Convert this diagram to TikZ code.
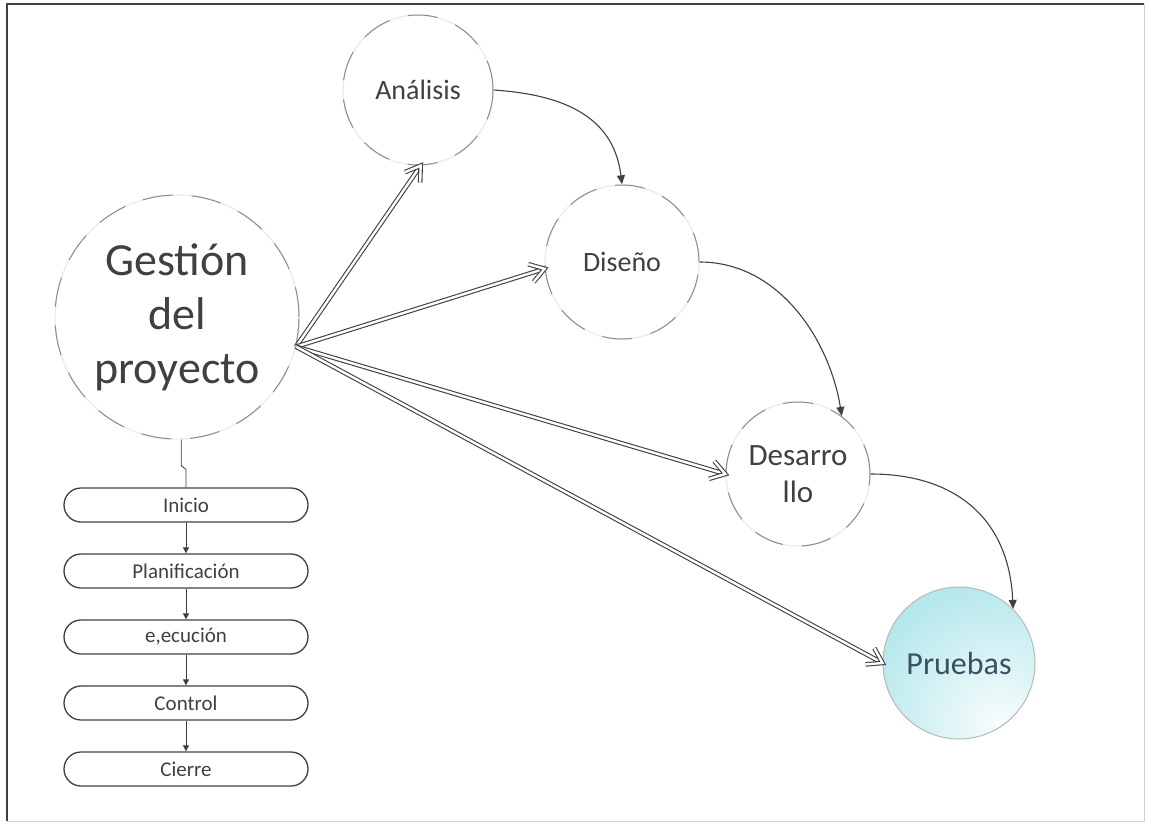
\documentclass[tikz,border=0pt]{standalone}
\usepackage{fontspec}
\setmainfont{Carlito}
\usetikzlibrary{arrows.meta,calc}
\definecolor{ink}{RGB}{64,64,68}
\definecolor{rim}{RGB}{140,140,140}
\definecolor{faint}{RGB}{236,236,236}
\definecolor{aqua}{RGB}{172,229,234}
\definecolor{aqualight}{RGB}{248,252,252}
\definecolor{slate}{RGB}{58,80,96}
% hollow double-lined arrow with an outlined chevron head
\newcommand\feedarrow[2]{%
  \draw[feed] (#1) -- (#2);
  \draw[feed, line join=miter] ($(#2)!17pt!33:(#1)$) -- (#2) -- ($(#2)!17pt!-33:(#1)$);}
\begin{document}
\begin{tikzpicture}[x=1pt,y=-1pt,
  phase/.style={circle, draw=faint, line width=1.4pt, inner sep=0pt, align=center, text=ink,
     postaction={draw=rim, line width=1pt, dash pattern=on 30pt off 19pt}},
  stepbox/.style={draw=ink, line width=1.3pt, rounded corners=17pt, minimum width=244pt,
     minimum height=34pt, inner sep=0pt, text=ink, font=\fontsize{21}{24}\selectfont},
  feed/.style={draw=ink, line width=1.1pt, double=white, double distance=2.4pt},
  flow/.style={draw=ink, line width=1.1pt, -{Triangle[length=9pt,width=8pt]}},
  link/.style={draw=ink, line width=0.9pt, -{Triangle[length=6pt,width=6pt]}}
]
\useasboundingbox (0,0) rectangle (1151,831);
% frame
\draw[gray!35, line width=1pt] (1144,4) -- (1144,821) -- (7,821);
\draw[ink, line width=1.2pt] (7,821) -- (7,4) -- (1144,4);

% phases
\node[phase, minimum size=244pt, font=\fontsize{46}{54}\selectfont] (gest) at (177,317) {Gestión\\del\\proyecto};
\node[phase, minimum size=150pt, font=\fontsize{28}{34}\selectfont] (ana) at (418,90) {Análisis};
\node[phase, minimum size=154pt, font=\fontsize{28}{34}\selectfont] (dis) at (622,262) {Diseño};
\node[phase, minimum size=144pt, font=\fontsize{31}{37}\selectfont] (des) at (798,474) {Desarro\\llo};
\node[circle, minimum size=152pt, inner sep=0pt, draw=gray!55, line width=1pt, text=slate,
  font=\fontsize{32}{37}\selectfont,
  path picture={\fill[aqua] (path picture bounding box.south west) rectangle (path picture bounding box.north east);
    \shade[inner color=aqualight, outer color=aqua]
    ($(path picture bounding box.center)+(40,60)$) circle (160pt);}] (pru) at (959,663) {Pruebas};

% management steps
\node[stepbox] (s1) at (186,505) {Inicio};
\node[stepbox] (s2) at (186,571) {Planificación};
\node[stepbox] (s3) at (186,637) {e,ecución};
\node[stepbox] (s4) at (186,703) {Control};
\node[stepbox] (s5) at (186,769) {Cierre};

\draw[ink, line width=0.8pt] (gest.-88) -- ++(0,26) -- ($(s1.north)+(0,-18)$) -- (s1.north);
\draw[link] (s1) -- (s2);
\draw[link] (s2) -- (s3);
\draw[link] (s3) -- (s4);
\draw[link] (s4) -- (s5);

% management feeds every phase
\coordinate (hub) at (gest.-14);
\coordinate (toAna) at (ana.-88);
\coordinate (toDis) at (dis.185);
\coordinate (toDes) at (des.west);
\coordinate (toPru) at (pru.west);
\feedarrow{hub}{toAna}
\feedarrow{hub}{toDis}
\feedarrow{hub}{toDes}
\feedarrow{hub}{toPru}

% phase sequence
\draw[flow] (ana.east) .. controls +(75,5) and +(-8,-65) .. (dis.north);
\draw[flow] (dis.east) .. controls +(80,0) and +(-12,-75) .. (des.53);
\draw[flow] (des.east) .. controls +(85,0) and +(-4,-90) .. (pru.45);
\end{tikzpicture}
\end{document}
